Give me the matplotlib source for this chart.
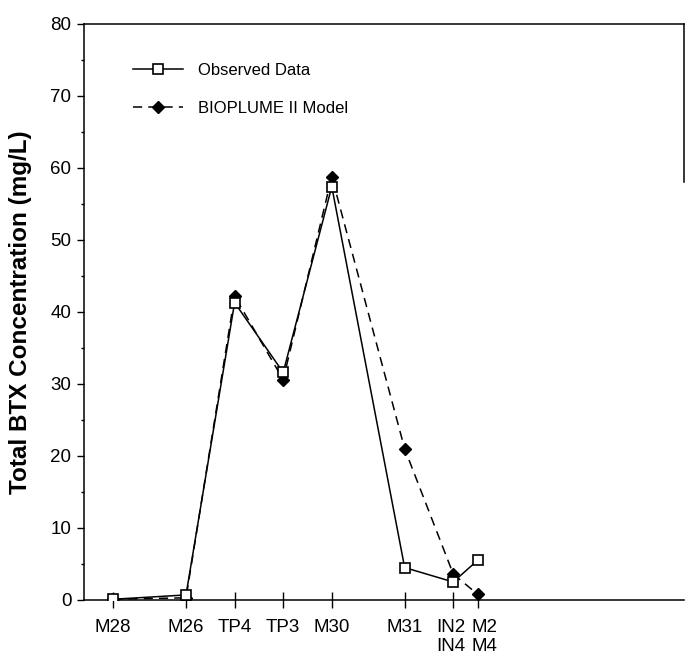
import matplotlib
matplotlib.use('Agg')
import matplotlib.pyplot as plt
import matplotlib.transforms as mtransforms
from matplotlib.ticker import MultipleLocator

plt.rcParams['font.family'] = ['Liberation Sans', 'DejaVu Sans']

# well positions along the plume (relative distance units) and labels
wells = ['M28', 'M26', 'TP4', 'TP3', 'M30', 'M31', 'IN2\nIN4', 'M2\nM4']
distance = [0, 3, 5, 7, 9, 12, 14, 15]
observed = [0.1, 0.7, 41.3, 31.6, 57.4, 4.5, 2.5, 5.5]
model = [0.1, 0.3, 42.2, 30.6, 58.8, 21.0, 3.6, 0.8]

fig = plt.figure(figsize=(6.85, 6.55), dpi=100)
ax = fig.add_axes([0.1226, 0.084, 0.876, 0.8795])

ax.plot(distance, observed, color='k', lw=1.1, marker='s', ms=7.5,
        mfc='white', mec='k', mew=1.2, label='Observed Data', zorder=3)
ax.plot(distance, model, color='k', lw=1.1, ls=(0, (6, 4)), marker='D', ms=6,
        mfc='k', mec='k', label='BIOPLUME II Model', zorder=2)

ax.set_xlim(-1.2, 23.5)
ax.set_ylim(0, 80)
ax.set_xticks(distance)
ax.set_xticklabels(wells, fontsize=13.5, linespacing=1.1)
ax.yaxis.set_major_locator(MultipleLocator(10))
ax.yaxis.set_minor_locator(MultipleLocator(5))
ax.tick_params(axis='x', direction='inout', length=12, width=1, pad=8)
ax.tick_params(axis='y', which='major', direction='out', length=5, width=1,
               labelsize=13.5, pad=4)
ax.tick_params(axis='y', which='minor', direction='out', length=2.5, width=1)

# nudge the two crowded labels at the right end apart
labels = ax.get_xticklabels()
labels[6].set_transform(labels[6].get_transform() +
                        mtransforms.ScaledTranslation(-2 / 100, 0, fig.dpi_scale_trans))
labels[7].set_transform(labels[7].get_transform() +
                        mtransforms.ScaledTranslation(7 / 100, 0, fig.dpi_scale_trans))

ax.set_ylabel('Total BTX Concentration (mg/L)', fontsize=17.5, fontweight='bold', labelpad=13)

ax.spines['right'].set_bounds(58, 80)
for s in ax.spines.values():
    s.set_linewidth(1.1)

ax.legend(loc='upper left', bbox_to_anchor=(0.082, 0.932), frameon=False,
          borderaxespad=0, borderpad=0, fontsize=12, handlelength=3.0,
          handletextpad=0.9, labelspacing=1.35)

fig.savefig('out.png', dpi=100)
